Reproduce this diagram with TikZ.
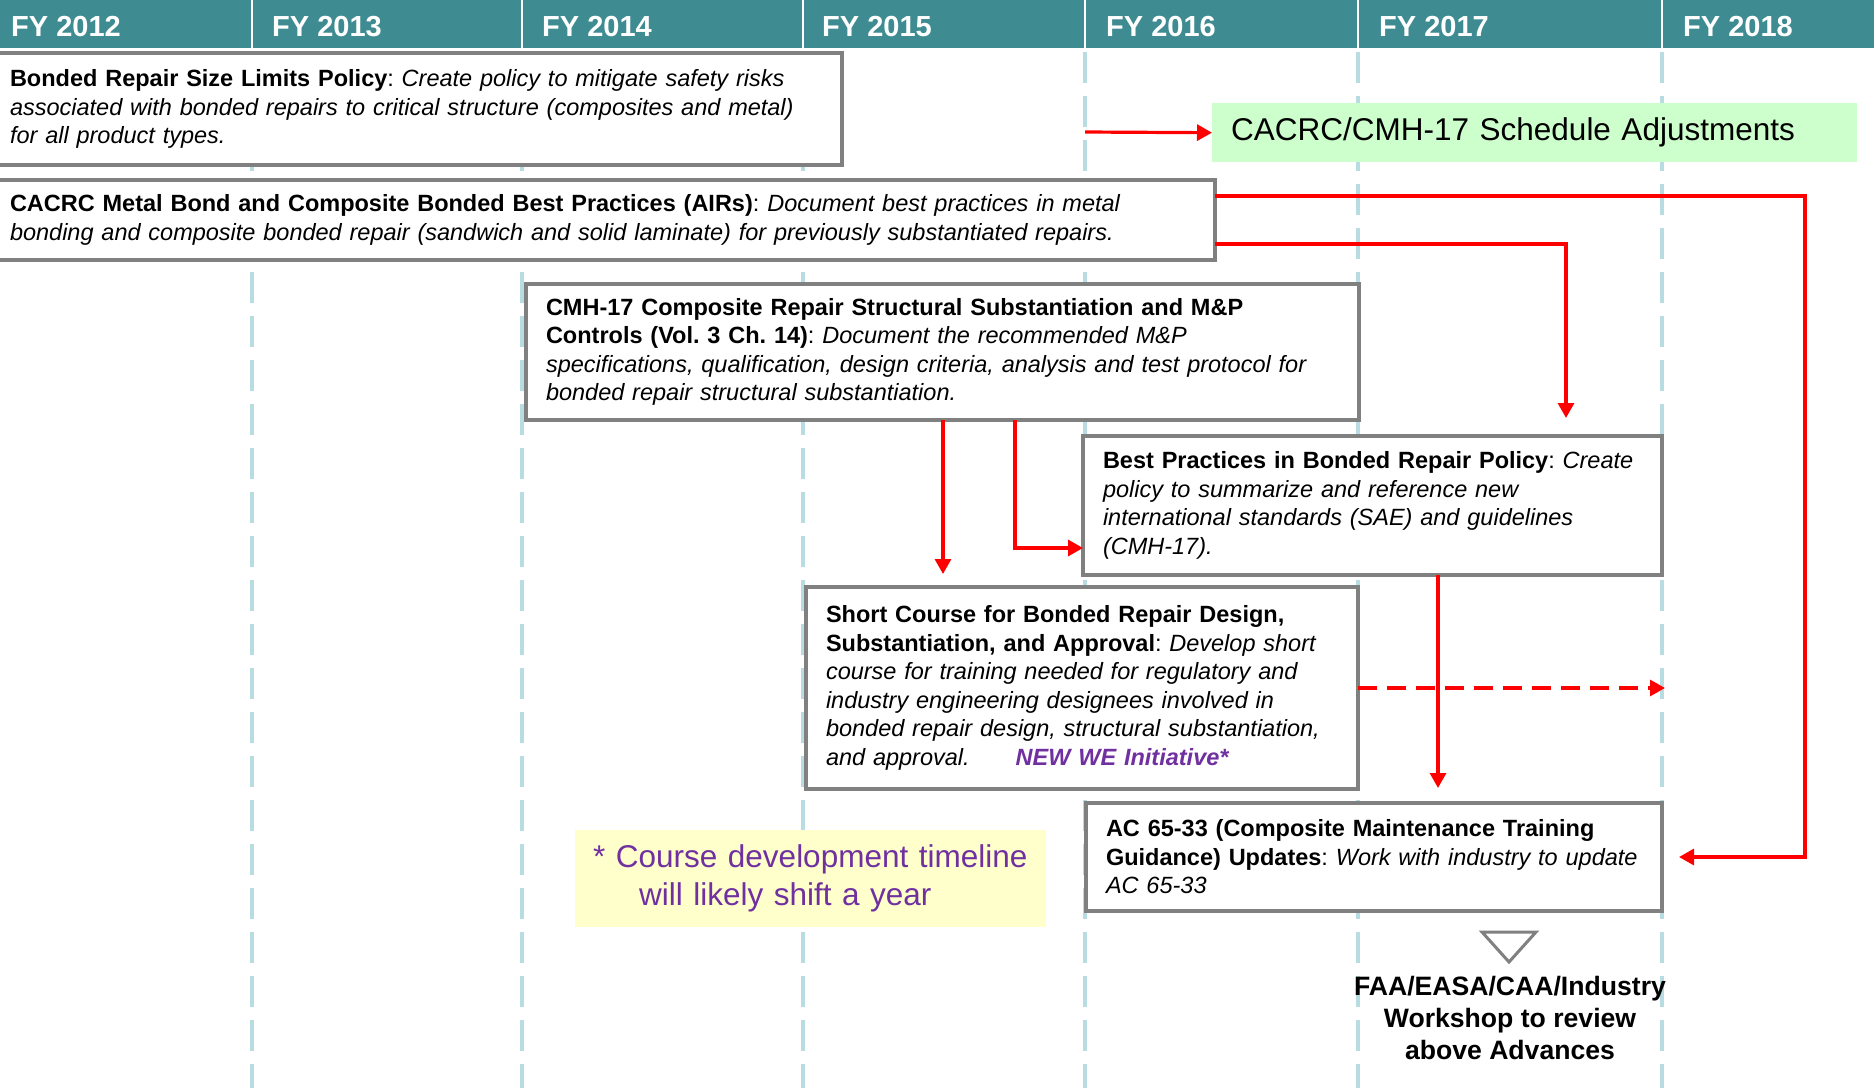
\documentclass[tikz,border=0pt]{standalone}
\usepackage{fontspec}
\setmainfont{Liberation Sans}
\usetikzlibrary{arrows.meta}
\frenchspacing
\hyphenpenalty=10000

\definecolor{hdrteal}{RGB}{62,140,146}
\definecolor{gridblue}{RGB}{183,221,227}
\definecolor{boxgray}{RGB}{128,128,128}
\definecolor{notegreen}{RGB}{204,255,204}
\definecolor{noteyellow}{RGB}{255,255,204}
\definecolor{wepurple}{RGB}{112,48,160}

\tikzset{
	taskbox/.style={draw=boxgray, line width=3.5pt, fill=white, anchor=north west,
		inner xsep=20pt, inner ysep=2pt, outer sep=0pt, align=left,
		font=\fontsize{23.5}{28.5}\selectfont},
	flow/.style={draw=red, line width=3.2pt, -{Triangle[length=15pt,width=16pt]}},
	gridline/.style={gridblue, line width=3.5pt, dash pattern=on 31pt off 13pt, dash phase=40pt},
}

\begin{document}
\begin{tikzpicture}[x=1pt, y=-1pt]
		\useasboundingbox (0,0) rectangle (1874,1088);

		% year header
		\fill[hdrteal] (0,0) rectangle (1874,48);
		\foreach \x in {252,522,803,1085,1358,1662} {
			\draw[white, line width=2pt] (\x,0) -- (\x,48);
			\draw[gridline] (\x,48) -- (\x,1088);
		}
		\foreach \yr/\x in {2012/11, 2013/272, 2014/542, 2015/822, 2016/1106, 2017/1379, 2018/1683}
			\node[anchor=base west, inner sep=0pt, text=white, font=\bfseries\fontsize{29}{34}\selectfont] (fy\yr) at (\x,36) {FY \yr};

		% tasks
		\node[taskbox, text width=812pt, minimum height=112pt] (sizepol) at (-10,53)
			{\textbf{Bonded Repair Size Limits Policy}: \textit{Create policy to mitigate safety risks}\\
			\textit{associated with bonded repairs to critical structure (composites and metal)}\\
			\textit{for all product types.}};
		\node[taskbox, text width=1185pt, minimum height=80pt] (airs) at (-10,180)
			{\textbf{CACRC Metal Bond and Composite Bonded Best Practices (AIRs)}: \textit{Document best practices in metal}\\
			\textit{bonding and composite bonded repair (sandwich and solid laminate) for previously substantiated repairs.}};
		\node[taskbox, text width=793pt, minimum height=136pt] (cmh) at (526,284)
			{\textbf{CMH-17 Composite Repair Structural Substantiation and M\&P}\\
			\textbf{Controls (Vol. 3 Ch. 14)}: \textit{Document the recommended M\&P}\\
			\textit{specifications, qualification, design criteria, analysis and test protocol for}\\
			\textit{bonded repair structural substantiation.}};
		\node[taskbox, text width=539pt, minimum height=139pt] (bestpol) at (1083,436)
			{\textbf{Best Practices in Bonded Repair Policy}: \textit{Create}\\
			\textit{policy to summarize and reference new}\\
			\textit{international standards (SAE) and guidelines}\\
			\textit{(CMH-17).}};
		\node[taskbox, text width=512pt, minimum height=202pt] (course) at (806,587)
			{\textbf{Short Course for Bonded Repair Design,}\\
			\textbf{Substantiation, and Approval}: \textit{Develop short}\\
			\textit{course for training needed for regulatory and}\\
			\textit{industry engineering designees involved in}\\
			\textit{bonded repair design, structural substantiation,}\\
			\textit{and approval.}\hspace{46pt}\textcolor{wepurple}{\textbf{\textit{NEW WE Initiative*}}}};
		\node[taskbox, text width=536pt, minimum height=108pt] (ac) at (1086,803)
			{\textbf{AC 65-33 (Composite Maintenance Training}\\
			\textbf{Guidance) Updates}: \textit{Work with industry to update}\\
			\textit{AC 65-33}};

		% notes
		\node[fill=notegreen, anchor=north west, minimum width=645pt, minimum height=59pt, text width=607pt,
			inner xsep=19pt, align=left, font=\fontsize{31.5}{38}\selectfont] (sched) at (1212,103)
			{CACRC/CMH-17 Schedule Adjustments};
		\node[fill=noteyellow, anchor=north west, minimum width=471pt, minimum height=97pt, text width=435pt,
			inner xsep=18pt, align=left, text=wepurple, font=\fontsize{31.5}{38}\selectfont] (note) at (575,830)
			{* Course development timeline\\\hspace*{46pt}will likely shift a year};

		\draw[boxgray, line width=3pt, fill=white] (1482,932) -- (1536,932) -- (1509,962) -- cycle;
		\node[inner sep=0pt, align=center, font=\bfseries\fontsize{26.6}{32}\selectfont] (workshop) at (1510,1018)
			{FAA/EASA/CAA/Industry\\Workshop to review\\above Advances};

		% links
		\coordinate (schedfrom) at (1085,132);
		\coordinate (rail) at (1805,857);
		\coordinate (bpin) at (1566,418);
		\coordinate (coursein) at (943,574);
		\coordinate (acin) at (1438,788);
		\coordinate (dashend) at (1665,688);

		\draw[flow] (schedfrom) -- (sched.west);
		\draw[flow] (airs.east |- 0,196) -| (rail) -- ([xshift=17pt]ac.east);
		\draw[flow] (airs.east |- 0,244) -| (bpin);
		\draw[flow] (cmh.south -| coursein) -- (coursein);
		\draw[flow] (cmh.south -| 1015,0) |- (bestpol.west |- 0,548);
		\draw[flow] (bestpol.south -| acin) -- (acin);
		\draw[flow, dash pattern=on 19pt off 10pt] (course.east) -- (dashend);
	\end{tikzpicture}
\end{document}
